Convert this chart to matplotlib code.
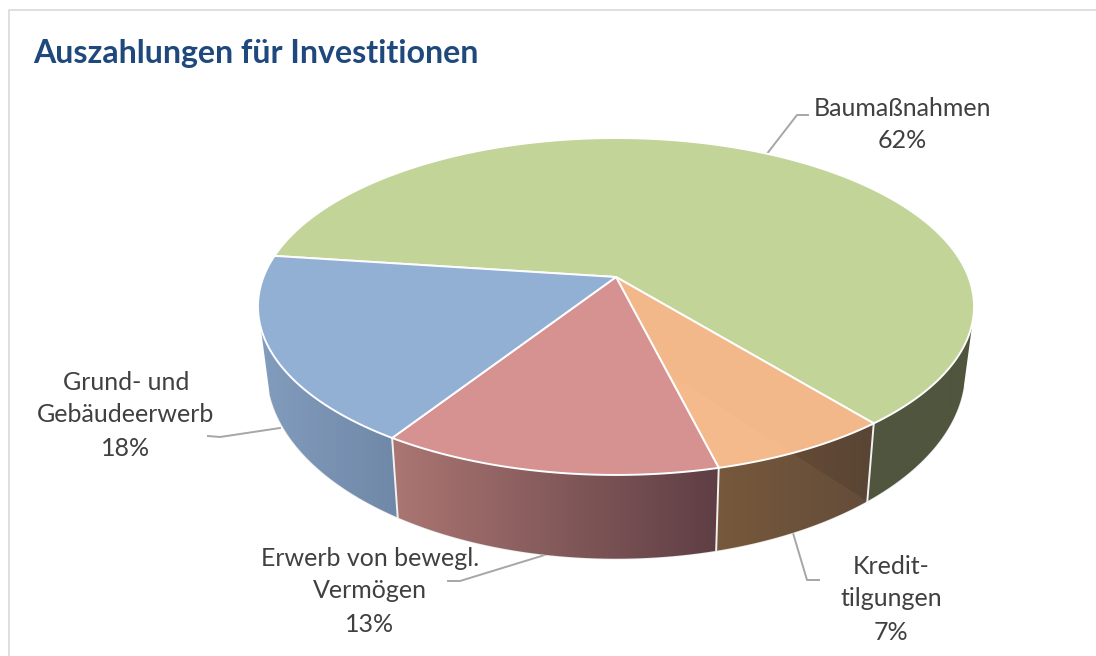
import numpy as np
import matplotlib
matplotlib.use('Agg')
import matplotlib.pyplot as plt
from matplotlib.colors import to_rgb
from matplotlib.patches import Polygon

# data
categories = ['Baumaßnahmen', 'Kredit-\ntilgungen', 'Erwerb von bewegl.\nVermögen', 'Grund- und\nGebäudeerwerb']
shares = [62, 7, 13, 18]
title = 'Auszahlungen für Investitionen'

top_colors = ['#C3D498', '#F5BA8C', '#D69191', '#92AFD4']
side_left = ['#50553E', '#77593C', '#AB7672', '#829CBD']
side_right = ['#50553E', '#634C3A', '#5E3E44', '#7088A8']
label_pos = [(902, 108), (891, 566), (370, 558), (126, 382)]
leaders = [[(766, 155), (797, 115), (808, 115)],
           [(793, 533), (807, 580), (819, 580)],
           [(548, 554), (460, 581), (448, 581)],
           [(280, 428), (220, 437), (208, 436)]]

plt.rcParams['font.family'] = ['Lato', 'DejaVu Sans']

# perspective of the disc, in pixels
cx, cy = 616, 277
fx, fy, r = 352.5, 163.3, 0.175
start = 172.4
# where the side stops being visible, left and right
edge_left, edge_right = -163, -15


def top_rim(deg):
    t = np.radians(deg)
    d = 1 + r * np.sin(t)
    return cx + fx * np.cos(t) / d, cy - fy * np.sin(t) / d


def bottom_rim(deg):
    x, y = top_rim(deg)
    return cx + (x - cx) * 0.975, y + 61 + (y - cy) * 0.115


fig = plt.figure(figsize=(10.96, 6.56), dpi=100)
ax = fig.add_axes([0, 0, 1, 1])
ax.set_xlim(0, 1096)
ax.set_ylim(656, 0)
ax.axis('off')

# frame of the chart
ax.plot([9, 9, 1096], [656, 10, 10], color='#D9D9D9', lw=1.2)

ang = np.cumsum([0] + shares) / sum(shares) * 360
a0 = start - ang[:-1]
a1 = start - ang[1:]

# sides, gradient image clipped to the side of each slice
side_shapes = {}
for i in [3, 2, 1, 0]:
    lo = a1[i]
    hi = a0[i]
    if i == 0:
        hi = edge_right
    if i == 3:
        lo = edge_left
    th = np.linspace(lo, hi, 150)
    poly = [top_rim(a) for a in th] + [bottom_rim(a) for a in th[::-1]]
    xy = np.array(poly)
    u = np.linspace(0, 1, 256)[None, :, None]
    img = np.array(to_rgb(side_left[i])) * (1 - u) + np.array(to_rgb(side_right[i])) * u
    im = ax.imshow(img, extent=[xy[:, 0].min(), xy[:, 0].max(), xy[:, 1].max(), xy[:, 1].min()],
                   aspect='auto', zorder=2, interpolation='bilinear')
    clip = Polygon(poly, closed=True, transform=ax.transData)
    im.set_clip_path(clip)
    side_shapes[i] = clip
    # light bottom edge
    bx, by = bottom_rim(th)
    ax.plot(bx, by, color='#E4E4E4', lw=1, zorder=1.5)
ax.set_xlim(0, 1096)
ax.set_ylim(656, 0)

# white seams on the side
for a in a1[:3]:
    p, q = top_rim(a), bottom_rim(a)
    ax.plot([p[0], q[0]], [p[1], q[1]], color='#F2F2F2', lw=1.4, zorder=3)

# top faces
top_patches = []
for i in range(len(shares)):
    th = np.linspace(a0[i], a1[i], 200)
    x, y = top_rim(th)
    pts = [(cx, cy)] + list(zip(x, y))
    pg = Polygon(pts, closed=True, fc=top_colors[i], ec='white', lw=1.4, joinstyle='round', zorder=4)
    ax.add_patch(pg)
    top_patches.append(pg)

# shadow band the green slice throws across the orange one
corner = bottom_rim(a1[0])
dx, dy = -178, -114
sh = [corner, (corner[0] + 2 * dx, corner[1] + 2 * dy), (corner[0] + 2 * dx, corner[1] - 400), (corner[0] + 60, corner[1] - 400), (corner[0] + 60, corner[1])]
s1 = Polygon(sh, closed=True, fc='black', ec='none', alpha=0.007, zorder=4.2)
ax.add_patch(s1)
s1.set_clip_path(top_patches[1])
s2 = Polygon(sh, closed=True, fc='black', ec='none', alpha=0.09, zorder=2.5)
ax.add_patch(s2)
s2.set_clip_path(side_shapes[1])

# leader lines and labels
for i, name in enumerate(categories):
    lx, ly = zip(*leaders[i])
    ax.plot(lx, ly, color='#A6A6A6', lw=1.4, zorder=1)
    lines = name.split('\n') + [str(shares[i]) + '%']
    for k, s in enumerate(lines):
        ax.text(label_pos[i][0], label_pos[i][1] + k * 33, s, ha='center', va='center',
                fontsize=18, color='#404040')

ax.text(33, 54, title, ha='left', va='center', fontsize=23.1, fontweight='bold', color='#1F497D')

fig.savefig('out.png', dpi=100)
